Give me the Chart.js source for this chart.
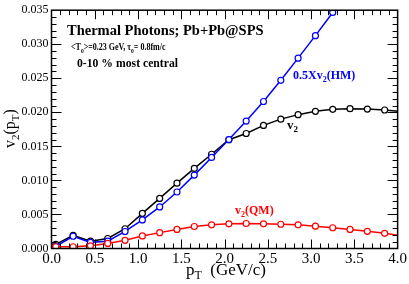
<!DOCTYPE html>
<html>
<head>
<meta charset="utf-8">
<script src="https://cdn.jsdelivr.net/npm/chart.js@4.4.0/dist/chart.umd.min.js"></script>
<style>
  html, body { margin: 0; padding: 0; background: #fff; }
  #wrap { width: 409px; height: 284px; }
</style>
</head>
<body>
<div id="wrap"><canvas id="chart-v2" width="409" height="284"></canvas></div>
<script>
// pT values (GeV/c)
var pt = [0.05, 0.25, 0.45, 0.65, 0.85, 1.05, 1.25, 1.45, 1.65, 1.85, 2.05,
          2.25, 2.45, 2.65, 2.85, 3.05, 3.25, 3.45, 3.65, 3.85, 4.05];
// v2 total
var v2_total = [0.0006, 0.00194, 0.00108, 0.00147, 0.0029, 0.00515, 0.00736, 0.0096, 0.01176, 0.01384, 0.01598,
                0.01689, 0.01808, 0.0190, 0.01966, 0.02015, 0.02044, 0.02053, 0.02048, 0.02034, 0.02012];
// 0.5 x v2 (HM)
var v2_hm = [0.0003, 0.0018, 0.0009, 0.00108, 0.0025, 0.0042, 0.0061, 0.0083, 0.01078, 0.01337, 0.0160,
             0.01871, 0.02159, 0.0247, 0.02796, 0.03126, 0.03467, 0.0381];
// v2 (QM)
var v2_qm = [0.00026, 0.00026, 0.0004, 0.00075, 0.0012, 0.00184, 0.00233, 0.0028, 0.00323, 0.00348, 0.00362,
             0.00367, 0.00362, 0.00356, 0.00348, 0.00328, 0.00305, 0.0028, 0.00252, 0.00223, 0.00187];

var xTicks = [0.0, 0.5, 1.0, 1.5, 2.0, 2.5, 3.0, 3.5, 4.0];
var yTicks = [0.000, 0.005, 0.010, 0.015, 0.020, 0.025, 0.030, 0.035];

function pts(ys) {
  var out = [];
  for (var i = 0; i < ys.length; i++) out.push({x: pt[i], y: ys[i]});
  return out;
}

function serie(ys, color) {
  return {
    data: pts(ys),
    borderColor: color,
    borderWidth: 1.5,
    pointRadius: 3,
    pointBorderWidth: 1.2,
    pointBorderColor: color,
    pointBackgroundColor: "#fff",
    tension: 0,
    fill: false
  };
}

var SERIF = "'Liberation Serif', 'Times New Roman', serif";

// draw text made of pieces: [text, size, dy]; sx squeezes it horizontally
function rich(ctx, x, y, parts, color, bold, sx) {
  sx = sx || 1;
  ctx.save();
  ctx.translate(x, y);
  ctx.scale(sx, 1);
  ctx.fillStyle = color;
  ctx.textBaseline = "alphabetic";
  ctx.textAlign = "left";
  var cx = 0;
  for (var i = 0; i < parts.length; i++) {
    ctx.font = (bold ? "bold " : "") + parts[i][1] + "px " + SERIF;
    ctx.fillText(parts[i][0], cx, parts[i][2] || 0);
    cx += ctx.measureText(parts[i][0]).width;
  }
  ctx.restore();
}

var framePlugin = {
  id: "frame",
  afterDatasetsDraw: function (chart) {
    var ctx = chart.ctx, a = chart.chartArea;
    var xs = chart.scales.x, ys = chart.scales.y;
    ctx.save();
    ctx.strokeStyle = "#000";
    ctx.lineWidth = 1.5;
    ctx.strokeRect(a.left, a.top, a.right - a.left, a.bottom - a.top);
    ctx.lineWidth = 1;
    ctx.beginPath();
    // x ticks, every 0.1, major every 0.5
    for (var i = 1; i < 40; i++) {
      var px = Math.round(xs.getPixelForValue(i / 10)) + 0.5;
      var len = (i % 5 === 0) ? 9 : 5;
      ctx.moveTo(px, a.bottom); ctx.lineTo(px, a.bottom - len);
      ctx.moveTo(px, a.top); ctx.lineTo(px, a.top + len);
    }
    // y ticks, every 0.001, major every 0.005
    for (var j = 1; j < 35; j++) {
      var py = Math.round(ys.getPixelForValue(j / 1000)) + 0.5;
      var l2 = (j % 5 === 0) ? 10 : 5;
      ctx.moveTo(a.left, py); ctx.lineTo(a.left + l2, py);
      ctx.moveTo(a.right, py); ctx.lineTo(a.right - l2, py);
    }
    ctx.stroke();
    ctx.restore();

    // labels inside the plot
    rich(ctx, 67, 35, [["Thermal Photons; Pb+Pb@SPS", 14.5]], "#000", true);
    rich(ctx, 71, 50, [["<T", 10], ["0", 7, 3], [">=0.23 GeV, \u03c4", 10], ["0", 7, 3], ["= 0.8fm/c", 10]], "#000", true, 0.8);
    rich(ctx, 77, 67, [["0-10 % most central", 13]], "#000", true, 0.9);
    rich(ctx, 293, 79, [["0.5Xv", 12], ["2", 8, 3], ["(HM)", 12]], "#0000ff", true);
    rich(ctx, 287, 129, [["v", 13], ["2", 9, 3]], "#000", true);
    rich(ctx, 235, 214, [["v", 12], ["2", 8, 3], ["(QM)", 12]], "#ff0000", true);

    // axis titles
    rich(ctx, 186, 275, [["p", 17], ["T", 12, 4], ["  (GeV/c)", 17]], "#000", false);
    ctx.save();
    ctx.translate(15, 148);
    ctx.rotate(-Math.PI / 2);
    rich(ctx, 0, 0, [["v", 16], ["2", 11, 4], ["(p", 16], ["T", 11, 4], [")", 16]], "#000", false);
    ctx.restore();
  }
};

var ctx = document.getElementById("chart-v2").getContext("2d");
var chart = new Chart(ctx, {
  type: "line",
  data: {
    datasets: [
      serie(v2_qm, "#ff0000"),
      serie(v2_hm, "#0000ff"),
      serie(v2_total, "#000000")
    ]
  },
  options: {
    responsive: false,
    animation: false,
    devicePixelRatio: 1,
    layout: { padding: { top: 5, right: 10, left: 0, bottom: 0 } },
    plugins: { legend: { display: false }, tooltip: { enabled: false } },
    scales: {
      x: {
        type: "linear",
        min: 0, max: 4,
        grid: { display: false, drawTicks: false, tickLength: 0 },
        border: { display: false },
        afterBuildTicks: function (s) { s.ticks = xTicks.map(function (v) { return {value: v}; }); },
        afterFit: function (s) { s.height = 35.5; },
        ticks: {
          color: "#000",
          padding: 2,
          maxRotation: 0,
          font: { family: SERIF, size: 15 },
          callback: function (v) { return Number(v).toFixed(1); }
        }
      },
      y: {
        type: "linear",
        min: 0, max: 0.035,
        grid: { display: false, drawTicks: false, tickLength: 0 },
        border: { display: false },
        afterBuildTicks: function (s) { s.ticks = yTicks.map(function (v) { return {value: v}; }); },
        afterFit: function (s) { s.width = 51.5; },
        ticks: {
          color: "#000",
          padding: 3,
          font: { family: SERIF, size: 12 },
          callback: function (v) { return Number(v).toFixed(3); }
        }
      }
    }
  },
  plugins: [framePlugin]
});
</script>
</body>
</html>
